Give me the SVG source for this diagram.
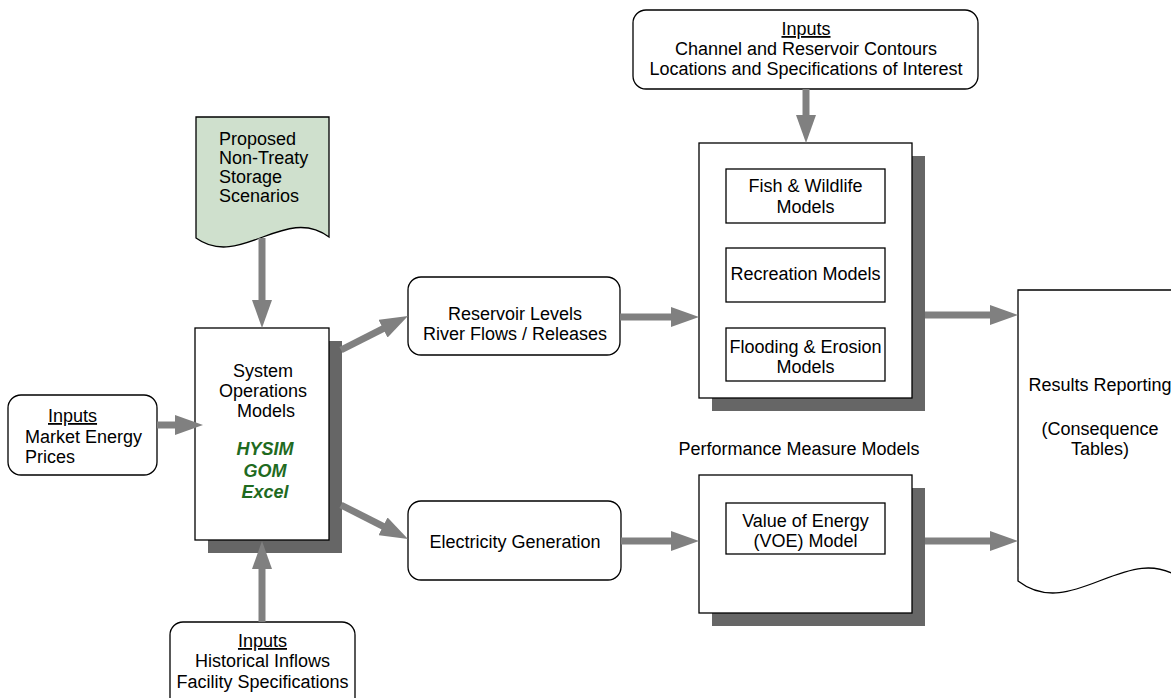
<svg xmlns="http://www.w3.org/2000/svg" width="1171" height="698" viewBox="0 0 1171 698">
<style>
  .box { fill: #ffffff; stroke: #000000; stroke-width: 1.3; }
  .doc { fill: #cfe0cd; stroke: #000000; stroke-width: 1.3; }
  .shadow { fill: #666666; stroke: none; }
  .t { font-family: "Liberation Sans", Arial, sans-serif; font-size: 18px; fill: #000000; }
  .c { text-anchor: middle; }
  .u { text-decoration: underline; }
  .g { font-family: "Liberation Sans", Arial, sans-serif; font-size: 18px; font-weight: bold; font-style: italic; fill: #1f6b1f; text-anchor: middle; }
  .conn { stroke: #808080; stroke-width: 7; fill: none; marker-end: url(#ah); }
</style>
<defs>
  <marker id="ah" markerUnits="userSpaceOnUse" markerWidth="28" markerHeight="20" refX="14" refY="10" orient="auto" viewBox="0 0 28 20">
    <path d="M0,0 L28,10 L0,20 z" fill="#808080"/>
  </marker>
</defs>

<g id="storage-scenarios">
  <path class="doc" d="M196,117 H329 V237 C285,204 240,270 196,238 Z"/>
  <text class="t" x="219" y="145">Proposed</text>
  <text class="t" x="219" y="164">Non-Treaty</text>
  <text class="t" x="219" y="183">Storage</text>
  <text class="t" x="219" y="202">Scenarios</text>
</g>

<g id="market-inputs">
  <rect class="box" x="8" y="395" width="149" height="80" rx="13"/>
  <text class="t u" x="48" y="422">Inputs</text>
  <text class="t" x="25" y="443">Market Energy</text>
  <text class="t" x="25" y="463">Prices</text>
</g>

<g id="system-operations">
  <rect class="shadow" x="208" y="341" width="134" height="212"/>
  <rect class="box" x="195" y="328" width="134" height="212"/>
  <text class="t c" x="263" y="377">System</text>
  <text class="t c" x="263" y="397">Operations</text>
  <text class="t c" x="266" y="417">Models</text>
  <text class="g" x="265" y="455">HYSIM</text>
  <text class="g" x="265" y="477">GOM</text>
  <text class="g" x="265" y="498">Excel</text>
</g>

<g id="historical-inputs">
  <rect class="box" x="170" y="622" width="185" height="90" rx="13"/>
  <text class="t c u" x="262.5" y="647">Inputs</text>
  <text class="t c" x="262.5" y="667">Historical Inflows</text>
  <text class="t c" x="262.5" y="688">Facility Specifications</text>
</g>

<g id="reservoir-levels">
  <rect class="box" x="408" y="277" width="212" height="78" rx="13"/>
  <text class="t c" x="515" y="320">Reservoir Levels</text>
  <text class="t c" x="515" y="340">River Flows / Releases</text>
</g>

<g id="electricity-generation">
  <rect class="box" x="408" y="501" width="213" height="79" rx="13"/>
  <text class="t c" x="515" y="548">Electricity Generation</text>
</g>

<g id="contour-inputs">
  <rect class="box" x="633" y="10" width="345" height="79" rx="13"/>
  <text class="t c u" x="806" y="35">Inputs</text>
  <text class="t c" x="806" y="55">Channel and Reservoir Contours</text>
  <text class="t c" x="806" y="75">Locations and Specifications of Interest</text>
</g>

<g id="environmental-models">
  <rect class="shadow" x="712" y="156" width="213" height="255"/>
  <rect class="box" x="699" y="143" width="213" height="255"/>
  <g id="fish-wildlife">
    <rect class="box" x="726" y="169" width="159" height="54"/>
    <text class="t c" x="805.5" y="192">Fish &amp; Wildlife</text>
    <text class="t c" x="805.5" y="213">Models</text>
  </g>
  <g id="recreation">
    <rect class="box" x="726" y="248" width="159" height="54"/>
    <text class="t c" x="805.5" y="280">Recreation Models</text>
  </g>
  <g id="flooding-erosion">
    <rect class="box" x="726" y="328" width="159" height="53"/>
    <text class="t c" x="805.5" y="353">Flooding &amp; Erosion</text>
    <text class="t c" x="805.5" y="373">Models</text>
  </g>
</g>

<g id="performance-label">
  <text class="t c" x="799" y="455">Performance Measure Models</text>
</g>

<g id="energy-models">
  <rect class="shadow" x="712" y="488" width="213" height="138"/>
  <rect class="box" x="699" y="475" width="213" height="138"/>
  <g id="voe">
    <rect class="box" x="726" y="503" width="159" height="51"/>
    <text class="t c" x="805.5" y="527">Value of Energy</text>
    <text class="t c" x="805.5" y="547">(VOE) Model</text>
  </g>
</g>

<g id="results-reporting">
  <path class="box" d="M1018,290 H1183 V580 C1128,538 1073,623 1018,581 Z"/>
  <text class="t c" x="1100" y="391">Results Reporting</text>
  <text class="t c" x="1100" y="435">(Consequence</text>
  <text class="t c" x="1100" y="455">Tables)</text>
</g>

<g id="connectors">
  <line class="conn" x1="262" y1="238" x2="262" y2="314"/>
  <line class="conn" x1="157" y1="425" x2="189" y2="425"/>
  <line class="conn" x1="262" y1="622" x2="262" y2="555"/>
  <line class="conn" x1="341" y1="350" x2="395.5" y2="322.3"/>
  <line class="conn" x1="341" y1="505" x2="395.5" y2="532.7"/>
  <line class="conn" x1="806" y1="89" x2="806" y2="129"/>
  <line class="conn" x1="620" y1="317" x2="685" y2="317"/>
  <line class="conn" x1="925" y1="315" x2="1004" y2="315"/>
  <line class="conn" x1="621" y1="541" x2="685" y2="541"/>
  <line class="conn" x1="925" y1="541" x2="1004" y2="541"/>
</g>
</svg>
